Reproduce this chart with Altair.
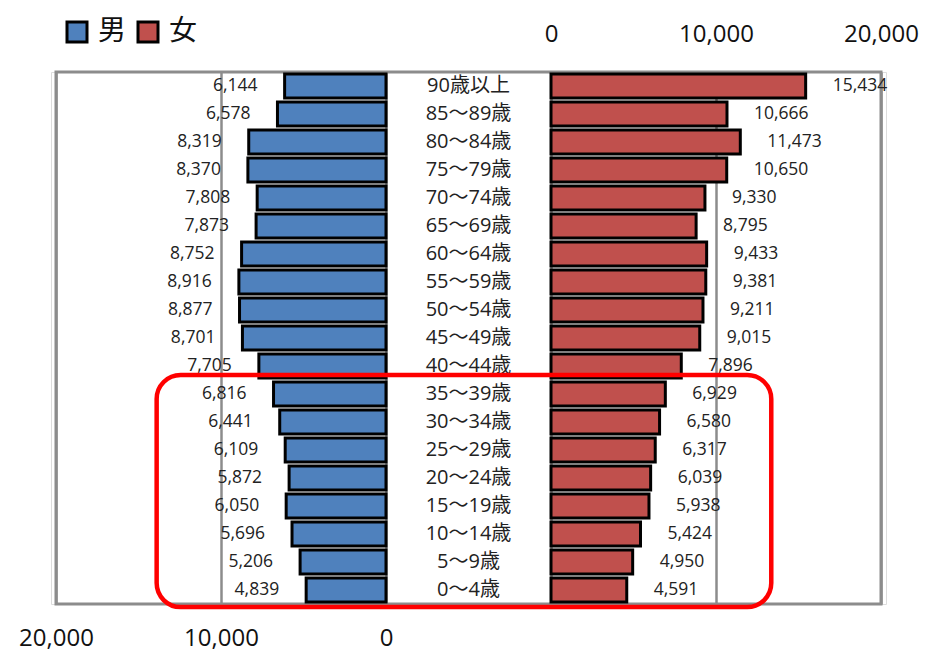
import altair as alt
import pandas as pd

# ---- data (top row first) ----
ages = ["90歳以上", "85～89歳", "80～84歳", "75～79歳", "70～74歳", "65～69歳",
        "60～64歳", "55～59歳", "50～54歳", "45～49歳", "40～44歳", "35～39歳",
        "30～34歳", "25～29歳", "20～24歳", "15～19歳", "10～14歳", "5～9歳", "0～4歳"]
male = [6144, 6578, 8319, 8370, 7808, 7873, 8752, 8916, 8877, 8701, 7705,
        6816, 6441, 6109, 5872, 6050, 5696, 5206, 4839]
female = [15434, 10666, 11473, 10650, 9330, 8795, 9433, 9381, 9211, 9015, 7896,
          6929, 6580, 6317, 6039, 5938, 5424, 4950, 4591]
sexes = ["男", "女"]
colors = ["#4F81BD", "#C0504D"]
tick_values = [0, 10000, 20000]
highlight = ("0～4歳", "35～39歳")

GAP = 5000          # half width of the centre label column, in value units
XMAX = 20000 + GAP
FONT = "'Open Sans', 'Noto Sans CJK JP', sans-serif"
JFONT = "'Noto Sans CJK JP', sans-serif"
GRID = "#8c8c8c"

n = len(ages)
rows = []
for i, (a, m, f) in enumerate(zip(ages, male, female)):
    idx = n - 1 - i
    rows.append(dict(age=a, idx=idx, sex=sexes[0], value=m))
    rows.append(dict(age=a, idx=idx, sex=sexes[1], value=f))
df = pd.DataFrame(rows)
labels_df = pd.DataFrame({"age": ages, "idx": [n - 1 - i for i in range(n)]})

idx_of = {a: n - 1 - i for i, a in enumerate(ages)}
hl_df = pd.DataFrame({
    "x0": [-18900], "x1": [18350],
    "y0": [idx_of[highlight[0]] - 0.61], "y1": [idx_of[highlight[1]] + 0.68],
})
frame_df = pd.DataFrame({"x0": [-XMAX], "x1": [XMAX], "y0": [-0.5], "y1": [n - 0.5]})

xscale = alt.Scale(domain=[-XMAX, XMAX], nice=False, zero=False)
yscale = alt.Scale(domain=[-0.5, n - 0.5], nice=False, zero=False)

bottom_axis = alt.Axis(
    values=[-(t + GAP) for t in tick_values], orient="bottom", title=None,
    labelExpr=f"format(-datum.value - {GAP}, ',')", ticks=False, domain=False,
    labelFlush=False, labelOverlap=False, labelFontSize=24, labelFont=FONT,
    labelColor="#111", labelPadding=22, grid=True, gridColor=GRID, gridWidth=2.5,
)
top_axis = alt.Axis(
    values=[t + GAP for t in tick_values], orient="top", title=None,
    labelExpr=f"format(datum.value - {GAP}, ',')", ticks=False, domain=False,
    labelFlush=False, labelOverlap=False, labelFontSize=24, labelFont=FONT,
    labelColor="#111", labelPadding=26, grid=True, gridColor=GRID, gridWidth=2.5,
)

base = alt.Chart(df).transform_calculate(
    x0=f"datum.sex == '{sexes[0]}' ? -{GAP} - datum.value : {GAP}",
    x1=f"datum.sex == '{sexes[0]}' ? -{GAP} : {GAP} + datum.value",
    y0="datum.idx - 0.43",
    y1="datum.idx + 0.43",
)

bars = base.mark_bar(stroke="black", strokeWidth=3).encode(
    x=alt.X("x0:Q", scale=xscale, axis=bottom_axis),
    x2="x1:Q",
    y=alt.Y("y0:Q", scale=yscale, axis=None),
    y2="y1:Q",
    color=alt.Color(
        "sex:N", scale=alt.Scale(domain=sexes, range=colors),
        legend=alt.Legend(
            title=None, orient="none", legendX=12, legendY=-54,
            direction="horizontal", symbolType="square", symbolSize=400,
            symbolStrokeColor="black", symbolStrokeWidth=3,
            labelFontSize=28, labelFont=JFONT, labelColor="#111",
            labelOffset=7, columnPadding=5, padding=0,
        ),
    ),
)

top_dummy = base.transform_filter(f"datum.sex == '{sexes[1]}'").mark_bar(opacity=0).encode(
    x=alt.X("x1:Q", scale=xscale, axis=top_axis),
    y=alt.Y("y0:Q", scale=yscale, axis=None),
)

male_text = base.transform_filter(f"datum.sex == '{sexes[0]}'").mark_text(
    align="right", baseline="middle", dx=-27, fontSize=17.5, font=FONT, color="#222"
).encode(
    x=alt.X("x0:Q", scale=xscale, axis=None),
    y=alt.Y("idx:Q", scale=yscale, axis=None),
    text=alt.Text("value:Q", format=","),
)

female_text = base.transform_filter(f"datum.sex == '{sexes[1]}'").mark_text(
    align="left", baseline="middle", dx=27, fontSize=17.5, font=FONT, color="#222"
).encode(
    x=alt.X("x1:Q", scale=xscale, axis=None),
    y=alt.Y("idx:Q", scale=yscale, axis=None),
    text=alt.Text("value:Q", format=","),
)

age_text = alt.Chart(labels_df).transform_calculate(cx="0").mark_text(
    align="center", baseline="middle", fontSize=20, font=FONT, color="#222"
).encode(
    x=alt.X("cx:Q", scale=xscale, axis=None),
    y=alt.Y("idx:Q", scale=yscale, axis=None),
    text="age:N",
)

frame = alt.Chart(frame_df).mark_rect(
    fillOpacity=0, stroke=GRID, strokeWidth=3
).encode(
    x=alt.X("x0:Q", scale=xscale, axis=None),
    x2="x1:Q",
    y=alt.Y("y0:Q", scale=yscale, axis=None),
    y2="y1:Q",
)

hl = alt.Chart(hl_df).mark_rect(
    fillOpacity=0, stroke="#FF0000", strokeWidth=4.5, cornerRadius=24
).encode(
    x=alt.X("x0:Q", scale=xscale, axis=None),
    x2="x1:Q",
    y=alt.Y("y0:Q", scale=yscale, axis=None),
    y2="y1:Q",
)

chart = alt.layer(frame, bars, top_dummy, male_text, female_text, age_text, hl).resolve_axis(
    x="independent"
).properties(
    width=835, height=532,
    autosize=alt.AutoSizeParams(type="none"),
    padding={"left": 43, "top": 64, "right": 36, "bottom": 48},
).configure_view(
    stroke=None
).configure(background="white")

chart.save("out.html", embed_options={"renderer": "svg", "actions": False})
